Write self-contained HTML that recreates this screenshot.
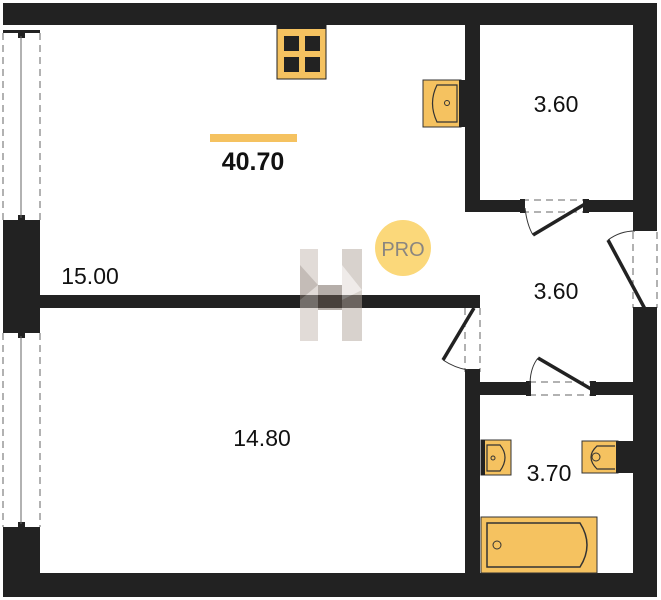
<!DOCTYPE html>
<html><head><meta charset="utf-8"><style>
html,body{margin:0;padding:0;background:#fff;}
svg{display:block;}
text{font-family:"Liberation Sans",sans-serif;}
</style></head><body>
<svg width="661" height="600" viewBox="0 0 661 600" xmlns="http://www.w3.org/2000/svg">
<rect width="661" height="600" fill="#fff"/>
<g fill="#222">
<rect x="3" y="3" width="654" height="22"/>
<rect x="3" y="573" width="654" height="24"/>
<rect x="3" y="223" width="37" height="107"/>
<rect x="3" y="530" width="37" height="67"/>
<rect x="633" y="3" width="24" height="227"/>
<rect x="633" y="310" width="24" height="287"/>
<rect x="40" y="295" width="440" height="13"/>
<rect x="465" y="25" width="15" height="187"/>
<rect x="465" y="200" width="55" height="12"/>
<rect x="588" y="200" width="45" height="12"/>
<rect x="465" y="372" width="15" height="201"/>
<rect x="480" y="382" width="47" height="13"/>
<rect x="593" y="382" width="40" height="13"/>
<rect x="3" y="30" width="37" height="3"/><rect x="3" y="220" width="37" height="3"/>
<rect x="3" y="330" width="37" height="3"/><rect x="3" y="527" width="37" height="3"/>
<rect x="18" y="33" width="7" height="5"/><rect x="18" y="215" width="7" height="5"/>
<rect x="18" y="333" width="7" height="5"/><rect x="18" y="522" width="7" height="5"/>
</g>
<g stroke="#666" stroke-width="1" fill="none">
<line x1="21" y1="36" x2="21" y2="218"/>
<line x1="21" y1="336" x2="21" y2="524"/>
<g stroke-dasharray="7,5">
<line x1="3" y1="33" x2="3" y2="220"/><line x1="40" y1="33" x2="40" y2="220"/>
<line x1="3" y1="333" x2="3" y2="527"/><line x1="40" y1="333" x2="40" y2="527"/>
<line x1="522" y1="200" x2="588" y2="200"/><line x1="522" y1="212" x2="588" y2="212"/>
<line x1="633" y1="232" x2="633" y2="308"/><line x1="657" y1="232" x2="657" y2="308"/>
<line x1="465" y1="308" x2="465" y2="372"/><line x1="480" y1="308" x2="480" y2="372"/>
<line x1="529" y1="382" x2="591" y2="382"/><line x1="529" y1="395" x2="591" y2="395"/>
</g>
</g>
<g fill="#222">
<rect x="520" y="199" width="5" height="14"/><rect x="583" y="199" width="6" height="14"/>
<rect x="633" y="227" width="24" height="4"/><rect x="633" y="307" width="24" height="4"/>
<rect x="465" y="304" width="15" height="4"/><rect x="465" y="369" width="15" height="4"/>
<rect x="526" y="381" width="5" height="15"/><rect x="590" y="381" width="6" height="15"/>
</g>
<g stroke="#222" stroke-width="3.5">
<line x1="585" y1="204" x2="533" y2="235"/>
<line x1="645" y1="309" x2="608" y2="240"/>
<line x1="474" y1="308" x2="443" y2="360"/>
<line x1="591" y1="389" x2="538" y2="358"/>
</g>
<g stroke="#333" stroke-width="1" fill="none">
<path d="M525 208 Q527 225 533 235"/>
<path d="M608 240 Q620 231 635 231"/>
<path d="M443 360 Q455 368 468 370"/>
<path d="M538 358 Q530 368 530 385"/>
</g>
<rect x="277" y="25" width="49" height="54" fill="#f5c260" stroke="#222" stroke-width="1"/>
<rect x="277" y="25" width="49" height="4" fill="#222"/>
<g fill="#222">
<rect x="284" y="36" width="15" height="15"/><rect x="305" y="36" width="15" height="15"/>
<rect x="284" y="57" width="15" height="15"/><rect x="305" y="57" width="15" height="15"/>
</g>
<rect x="423" y="80" width="38" height="47" fill="#f5c260" stroke="#333"/>
<rect x="459" y="80" width="6" height="47" fill="#222"/>
<path d="M457 85 H437 Q428 103 437 122 H457 Z" fill="none" stroke="#333" stroke-width="1.2"/>
<circle cx="447" cy="103" r="2.5" fill="none" stroke="#333"/>
<rect x="481" y="440" width="30" height="35" fill="#f5c260" stroke="#333"/>
<rect x="481" y="440" width="4" height="35" fill="#222"/>
<path d="M487 445 H500 Q510 457 500 471 H487 Z" fill="none" stroke="#333" stroke-width="1.2"/>
<circle cx="493" cy="458" r="2" fill="none" stroke="#333"/>
<rect x="582" y="441" width="36" height="32" fill="#f5c260" stroke="#333"/>
<rect x="616" y="441" width="17" height="32" fill="#222"/>
<path d="M615 446 H597 Q585 457 597 469 H615" fill="none" stroke="#333" stroke-width="1.2"/>
<circle cx="596" cy="457" r="4" fill="none" stroke="#333"/>
<rect x="481" y="517" width="116" height="56" fill="#f5c260" stroke="#333"/>
<path d="M487 523 H580 Q594 545 580 567 H487 Z" fill="none" stroke="#333" stroke-width="1.5"/>
<circle cx="497" cy="545" r="4" fill="none" stroke="#333"/>
<g opacity="0.5">
<rect x="300" y="249" width="18" height="92" fill="#c4b9b1"/>
<rect x="342" y="249" width="20" height="92" fill="#b3a69c"/>
<polygon points="318,285 342,285 342,310 318,310" fill="#6d5f55"/>
<polygon points="300,265 318,285 300,300" fill="#8a7c72"/>
<polygon points="342,265 362,290 342,300" fill="#e0d9d4"/>
</g>
<circle cx="403" cy="248" r="28" fill="#fbd87a"/>
<text x="403" y="256" font-size="20" fill="#8a8680" text-anchor="middle">PRO</text>
<rect x="210" y="134" width="87" height="8" fill="#f5c260"/>
<text x="253" y="170" font-size="25" font-weight="bold" fill="#111" text-anchor="middle">40.70</text>
<text x="90" y="284" font-size="23" fill="#111" text-anchor="middle">15.00</text>
<text x="556" y="112" font-size="23" fill="#111" text-anchor="middle">3.60</text>
<text x="556" y="299" font-size="23" fill="#111" text-anchor="middle">3.60</text>
<text x="262" y="446" font-size="23" fill="#111" text-anchor="middle">14.80</text>
<text x="549" y="481" font-size="23" fill="#111" text-anchor="middle">3.70</text>
</svg>
</body></html>
